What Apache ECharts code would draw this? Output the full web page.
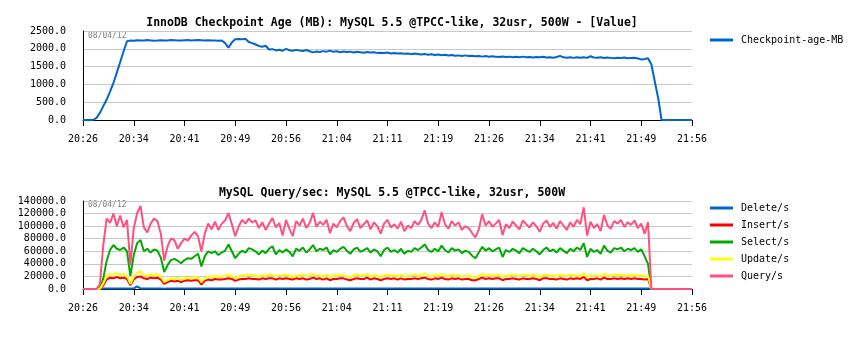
<!DOCTYPE html>
<html>
<head>
<meta charset="utf-8">
<script src="https://cdn.jsdelivr.net/npm/echarts@6/dist/echarts.min.js"></script>
<style>
  html, body { margin: 0; padding: 0; background: #ffffff; }
  #chart { width: 863px; height: 339px; }
</style>
</head>
<body>
<div id="chart"></div>
<script>
// Sampling step of the series, in minutes from 20:26
const STEP_MIN = 0.5;

// Time axis labels, one every 7.5 minutes
const timeLabels = ['20:26', '20:34', '20:41', '20:49', '20:56', '21:04', '21:11',
                    '21:19', '21:26', '21:34', '21:41', '21:49', '21:56'];

// InnoDB checkpoint age (MB)
const checkpointAgeMB = [
  0, 0, 0, 0, 60, 200, 390, 575, 800, 1040,
  1330, 1630, 1930, 2210, 2230, 2225, 2240, 2235, 2230, 2245,
  2235, 2225, 2230, 2240, 2235, 2230, 2245, 2240, 2235, 2230,
  2240, 2245, 2235, 2240, 2245, 2240, 2235, 2240, 2235, 2230,
  2225, 2235, 2160, 2030, 2180, 2270, 2275, 2265, 2280, 2190,
  2160, 2120, 2080, 2060, 2085, 1980, 1990, 1955, 1975, 1945,
  2000, 1960, 1945, 1970, 1950, 1940, 1965, 1930, 1900, 1925,
  1910, 1935, 1920, 1950, 1915, 1930, 1905, 1925, 1910, 1920,
  1895, 1915, 1905, 1890, 1910, 1895, 1905, 1885, 1890, 1880,
  1895, 1870, 1880, 1865, 1875, 1860, 1870, 1850, 1865, 1855,
  1840, 1855, 1835, 1845, 1825, 1840, 1820, 1830, 1810, 1825,
  1805, 1815, 1800, 1815, 1795, 1805, 1790, 1800, 1780, 1795,
  1775, 1790, 1780, 1770, 1785, 1770, 1780, 1765, 1775, 1760,
  1780, 1765, 1770, 1755, 1770, 1760, 1775, 1755, 1765, 1750,
  1770, 1800, 1760, 1750, 1765, 1745, 1760, 1750, 1765, 1745,
  1790, 1755, 1750, 1760, 1740, 1755, 1745, 1735, 1750, 1740,
  1755, 1735, 1745, 1750, 1730, 1700, 1715, 1735, 1560, 1080,
  620, 0, 0, 0, 0, 0, 0, 0, 0, 0,
  0
];

// MySQL statements per second
const deletePerSec = [
  0, 0, 0, 0, 0, 0, 700, 900, 800, 900,
  800, 700, 900, 800, 600, 900, 4000, 1000, 800, 900,
  800, 900, 700, 800, 500, 700, 800, 800, 900, 700,
  800, 900, 800, 700, 800, 900, 800, 800, 700, 900,
  800, 900, 800, 700, 900, 800, 800, 900, 800, 700,
  900, 800, 800, 700, 900, 800, 900, 800, 700, 800,
  800, 900, 800, 800, 700, 900, 800, 800, 900, 800,
  700, 800, 900, 800, 800, 900, 700, 800, 800, 900,
  800, 700, 900, 800, 800, 900, 800, 700, 800, 900,
  800, 800, 700, 900, 800, 900, 800, 800, 700, 800,
  900, 800, 800, 900, 700, 800, 900, 800, 800, 700,
  800, 900, 800, 700, 800, 900, 800, 800, 900, 800,
  700, 800, 900, 800, 800, 700, 900, 800, 800, 900,
  800, 700, 800, 900, 800, 800, 900, 700, 800, 800,
  900, 800, 800, 700, 900, 800, 800, 900, 800, 700,
  800, 900, 800, 800, 700, 900, 800, 800, 900, 800,
  800, 700, 900, 800, 800, 900, 800, 700, 0, 0,
  0, 0, 0, 0, 0, 0, 0, 0, 0, 0,
  0
];

const insertPerSec = [
  0, 0, 0, 0, 0, 0, 6000, 15000, 18000, 17000,
  19000, 17000, 18000, 16000, 6000, 15000, 19000, 20000, 17000, 16000,
  18000, 17000, 18000, 15000, 8000, 11000, 13000, 12000, 13000, 11000,
  13000, 14000, 13000, 14000, 14000, 7000, 13000, 15000, 14000, 16000,
  15000, 15000, 16000, 17000, 16000, 13000, 15000, 16000, 16000, 17000,
  16000, 16000, 15000, 17000, 16000, 17000, 17000, 15000, 17000, 16000,
  17000, 16000, 15000, 17000, 16000, 17000, 15000, 16000, 18000, 16000,
  17000, 15000, 17000, 14000, 16000, 16000, 17000, 17000, 15000, 14000,
  16000, 17000, 16000, 16000, 18000, 15000, 17000, 16000, 14000, 16000,
  17000, 16000, 17000, 15000, 17000, 15000, 16000, 16000, 17000, 16000,
  17000, 18000, 16000, 15000, 17000, 16000, 18000, 16000, 15000, 17000,
  16000, 17000, 15000, 16000, 16000, 14000, 14000, 16000, 18000, 16000,
  17000, 16000, 17000, 17000, 14000, 16000, 16000, 17000, 16000, 15000,
  17000, 16000, 16000, 17000, 16000, 14000, 17000, 17000, 16000, 16000,
  15000, 17000, 16000, 15000, 17000, 16000, 17000, 16000, 19000, 14000,
  16000, 16000, 17000, 15000, 18000, 16000, 16000, 17000, 16000, 17000,
  16000, 17000, 16000, 17000, 16000, 16000, 15000, 16000, 0, 0,
  0, 0, 0, 0, 0, 0, 0, 0, 0, 0,
  0
];

const selectPerSec = [
  0, 0, 0, 0, 0, 2000, 17000, 45000, 62000, 70000,
  64000, 62000, 66000, 60000, 21000, 54000, 73000, 78000, 60000, 64000,
  58000, 63000, 61000, 50000, 27000, 38000, 46000, 48000, 45000, 41000,
  46000, 49000, 48000, 52000, 56000, 36000, 52000, 60000, 57000, 60000,
  54000, 58000, 61000, 71000, 60000, 49000, 56000, 61000, 58000, 65000,
  63000, 60000, 55000, 61000, 57000, 64000, 68000, 55000, 62000, 58000,
  63000, 59000, 52000, 64000, 61000, 66000, 58000, 63000, 70000, 60000,
  64000, 62000, 66000, 55000, 62000, 59000, 64000, 67000, 61000, 56000,
  63000, 66000, 59000, 62000, 65000, 58000, 63000, 60000, 52000, 62000,
  66000, 59000, 62000, 58000, 64000, 56000, 61000, 59000, 65000, 62000,
  66000, 71000, 62000, 59000, 64000, 60000, 69000, 62000, 58000, 65000,
  61000, 63000, 57000, 61000, 59000, 53000, 49000, 58000, 67000, 61000,
  65000, 60000, 63000, 66000, 51000, 62000, 59000, 64000, 61000, 57000,
  65000, 62000, 59000, 64000, 60000, 55000, 62000, 66000, 60000, 63000,
  58000, 65000, 61000, 57000, 64000, 60000, 66000, 62000, 73000, 51000,
  64000, 59000, 62000, 56000, 69000, 61000, 58000, 65000, 63000, 66000,
  60000, 64000, 62000, 65000, 59000, 63000, 52000, 40000, 0, 0,
  0, 0, 0, 0, 0, 0, 0, 0, 0, 0,
  0
];

const updatePerSec = [
  0, 0, 0, 0, 0, 500, 9000, 20000, 24000, 23000,
  25000, 22000, 24000, 21000, 8000, 19000, 26000, 28000, 22000, 21000,
  23000, 22000, 24000, 20000, 11000, 14000, 17000, 16000, 18000, 15000,
  17000, 18000, 17000, 19000, 18000, 11000, 17000, 20000, 19000, 21000,
  19000, 20000, 21000, 23000, 21000, 17000, 20000, 22000, 21000, 23000,
  22000, 21000, 20000, 22000, 21000, 23000, 22000, 20000, 22000, 21000,
  23000, 21000, 19000, 22000, 21000, 23000, 20000, 22000, 24000, 21000,
  22000, 20000, 23000, 19000, 22000, 21000, 23000, 22000, 20000, 19000,
  22000, 23000, 21000, 22000, 24000, 20000, 22000, 21000, 19000, 22000,
  23000, 21000, 22000, 20000, 23000, 20000, 21000, 22000, 23000, 21000,
  22000, 25000, 22000, 20000, 23000, 21000, 24000, 22000, 20000, 23000,
  21000, 22000, 20000, 21000, 22000, 19000, 18000, 21000, 24000, 22000,
  23000, 21000, 22000, 23000, 19000, 22000, 21000, 23000, 22000, 20000,
  23000, 22000, 21000, 23000, 21000, 19000, 22000, 23000, 21000, 22000,
  20000, 23000, 22000, 20000, 23000, 21000, 22000, 21000, 25000, 19000,
  22000, 21000, 22000, 20000, 24000, 22000, 21000, 23000, 22000, 23000,
  21000, 22000, 21000, 23000, 21000, 22000, 20000, 21000, 0, 0,
  0, 0, 0, 0, 0, 0, 0, 0, 0, 0,
  0
];

const queryPerSec = [
  0, 0, 0, 0, 0, 8000, 70000, 112000, 105000, 120000,
  100000, 117000, 98000, 110000, 38000, 96000, 121000, 132000, 98000, 90000,
  104000, 112000, 108000, 88000, 45000, 68000, 80000, 78000, 64000, 73000,
  80000, 77000, 85000, 91000, 84000, 60000, 88000, 104000, 95000, 107000,
  94000, 104000, 109000, 121000, 103000, 84000, 99000, 110000, 104000, 112000,
  106000, 109000, 97000, 106000, 94000, 104000, 113000, 98000, 105000, 85000,
  110000, 96000, 84000, 108000, 101000, 112000, 97000, 105000, 121000, 99000,
  107000, 102000, 110000, 89000, 104000, 98000, 108000, 114000, 100000, 92000,
  105000, 111000, 97000, 103000, 109000, 95000, 106000, 100000, 88000, 104000,
  110000, 98000, 103000, 96000, 107000, 92000, 101000, 97000, 108000, 102000,
  110000, 125000, 104000, 97000, 106000, 99000, 122000, 103000, 96000, 108000,
  101000, 106000, 94000, 100000, 97000, 89000, 82000, 95000, 119000, 101000,
  108000, 99000, 104000, 110000, 86000, 103000, 97000, 107000, 101000, 95000,
  109000, 103000, 98000, 106000, 100000, 91000, 104000, 109000, 99000, 105000,
  96000, 108000, 101000, 94000, 106000, 99000, 110000, 103000, 130000, 85000,
  107000, 97000, 103000, 92000, 118000, 101000, 96000, 108000, 104000, 110000,
  99000, 106000, 102000, 109000, 97000, 104000, 88000, 106000, 0, 0,
  0, 0, 0, 0, 0, 0, 0, 0, 0, 0,
  0
];

const FONT = '"DejaVu Sans Mono", "Liberation Mono", monospace';
const toPairs = (vals) => vals.map((v, i) => [i * STEP_MIN, v]);

function xAxisFor(gridIndex) {
  return {
    type: 'value', gridIndex: gridIndex,
    min: 0, max: 90, interval: 7.5,
    axisLine: { show: true, onZero: false, lineStyle: { color: '#000000', width: 1 } },
    axisTick: { show: true, length: 6, lineStyle: { color: '#000000', width: 1 } },
    axisLabel: {
      margin: 14, fontFamily: FONT, fontSize: 10, color: '#000000',
      formatter: (v) => timeLabels[Math.round(v / 7.5)] || ''
    },
    splitLine: { show: false }
  };
}

function yAxisFor(gridIndex, max, interval) {
  return {
    type: 'value', gridIndex: gridIndex,
    min: 0, max: max, interval: interval,
    axisLine: { show: true, lineStyle: { color: '#000000', width: 1 } },
    axisTick: { show: false },
    axisLabel: {
      margin: 17, fontFamily: FONT, fontSize: 10, color: '#000000',
      formatter: (v) => v.toFixed(1)
    },
    splitLine: { show: true, lineStyle: { color: '#c8c8c8', width: 1 } }
  };
}

function lineSeries(name, vals, color, xi, yi) {
  return {
    name: name, type: 'line', xAxisIndex: xi, yAxisIndex: yi,
    data: toPairs(vals),
    showSymbol: false, symbol: 'none',
    lineStyle: { color: color, width: 2 },
    itemStyle: { color: color },
    animation: false
  };
}

const chart = echarts.init(document.getElementById('chart'), null, { renderer: 'canvas' });

chart.setOption({
  animation: false,
  backgroundColor: '#ffffff',
  title: [
    {
      text: 'InnoDB Checkpoint Age (MB): MySQL 5.5 @TPCC-like, 32usr, 500W - [Value]',
      left: 387, top: 12, textAlign: 'center',
      textStyle: { fontFamily: FONT, fontSize: 11.5, fontWeight: 'bold', color: '#000000' }
    },
    {
      text: 'MySQL Query/sec: MySQL 5.5 @TPCC-like, 32usr, 500W',
      left: 387, top: 182, textAlign: 'center',
      textStyle: { fontFamily: FONT, fontSize: 11.5, fontWeight: 'bold', color: '#000000' }
    }
  ],
  grid: [
    { left: 83, top: 31, width: 609, height: 89, outerBoundsMode: 'none' },
    { left: 83, top: 201, width: 609, height: 88, outerBoundsMode: 'none' }
  ],
  xAxis: [xAxisFor(0), xAxisFor(1)],
  yAxis: [yAxisFor(0, 2500, 500), yAxisFor(1, 140000, 20000)],
  legend: [
    {
      data: ['Checkpoint-age-MB'],
      orient: 'vertical', left: 705, top: 28,
      icon: 'rect', itemWidth: 23, itemHeight: 3, itemGap: 3,
      textStyle: { fontFamily: FONT, fontSize: 10, color: '#000000', lineHeight: 14, padding: [0, 0, 0, 3] }
    },
    {
      data: ['Delete/s', 'Insert/s', 'Select/s', 'Update/s', 'Query/s'],
      orient: 'vertical', left: 705, top: 196,
      icon: 'rect', itemWidth: 23, itemHeight: 3, itemGap: 3,
      textStyle: { fontFamily: FONT, fontSize: 10, color: '#000000', lineHeight: 14, padding: [0, 0, 0, 3] }
    }
  ],
  graphic: [
    { type: 'text', left: 88, top: 32, silent: true,
      style: { text: '08/04/12', font: '8px ' + FONT, fill: '#808080' } },
    { type: 'text', left: 88, top: 201, silent: true,
      style: { text: '08/04/12', font: '8px ' + FONT, fill: '#808080' } }
  ],
  series: [
    lineSeries('Checkpoint-age-MB', checkpointAgeMB, '#0066cc', 0, 0),
    lineSeries('Delete/s', deletePerSec, '#0066cc', 1, 1),
    lineSeries('Insert/s', insertPerSec, '#ff0000', 1, 1),
    lineSeries('Select/s', selectPerSec, '#00aa00', 1, 1),
    lineSeries('Update/s', updatePerSec, '#ffff00', 1, 1),
    lineSeries('Query/s', queryPerSec, '#ff5080', 1, 1)
  ]
});
</script>
</body>
</html>
